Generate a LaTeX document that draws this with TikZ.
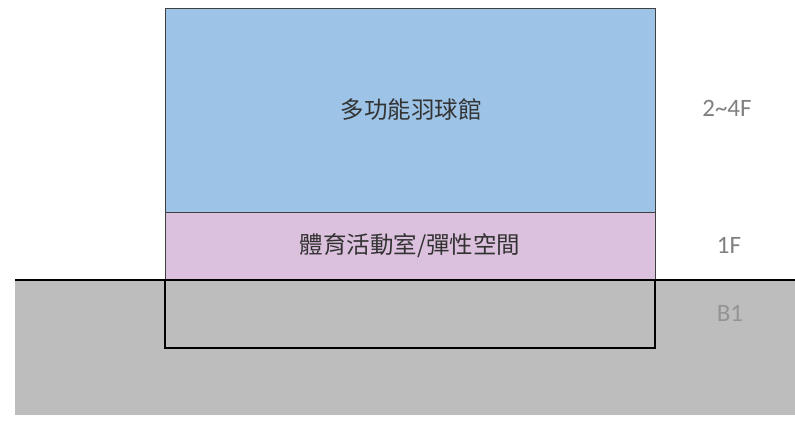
\documentclass[tikz,border=0pt]{standalone}
\usepackage{fontspec}
\setmainfont{Carlito}
\newfontfamily\cjk{Noto Sans CJK TC}
\definecolor{hallblue}{RGB}{157,195,230}
\definecolor{roompink}{RGB}{220,193,222}
\definecolor{soil}{RGB}{189,189,189}
\definecolor{floortext}{RGB}{128,128,128}

\begin{document}
\begin{tikzpicture}[x=1pt,y=-1pt,
  floor/.style={draw=black!75,line width=0.8pt},
  roomlabel/.style={font=\cjk\fontsize{23.5}{26}\selectfont,text=black!80},
  levellabel/.style={font=\fontsize{25}{28}\selectfont,text=floortext}]
\useasboundingbox (0,0) rectangle (795,435);
% ground
\fill[soil] (15,280) rectangle (795,415);
% building
\draw[floor,fill=hallblue] (165,8) rectangle (655,212);
\draw[floor,fill=roompink] (165,212) rectangle (655,280);
\draw[line width=1.2pt] (165,280) rectangle (655,348);
\draw[line width=2pt] (15,280) -- (795,280);
% labels
\node[roomlabel] (hall) at (411,110) {多功能羽球館};
\node[roomlabel] (gym) at (410,246) {體育活動室/彈性空間};
\node[levellabel] (upper) at (727,108) {2\textasciitilde4F};
\node[levellabel] (ground) at (729,245) {1F};
\node[levellabel,text=black!42] (base) at (730,313) {B1};
\end{tikzpicture}
\end{document}
